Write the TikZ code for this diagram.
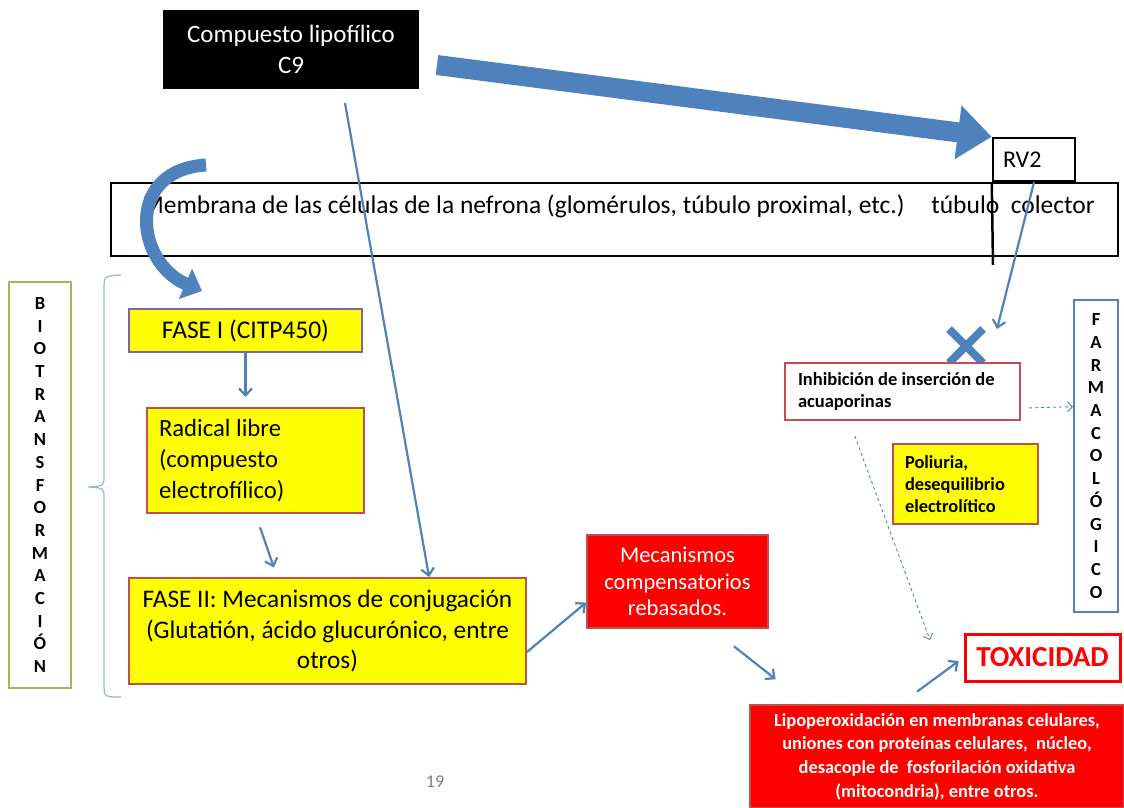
\documentclass[tikz,border=0pt]{standalone}
\usepackage{fontspec}
\setmainfont{Carlito}
\usepackage{xcolor}
\usetikzlibrary{arrows.meta,shapes.misc}

\definecolor{azul}{HTML}{4F81BD}
\definecolor{azulclaro}{HTML}{95B3D7}
\definecolor{rojoborde}{HTML}{C0504D}
\definecolor{morado}{HTML}{8064A2}
\definecolor{verde}{HTML}{9BBB59}
\definecolor{amarillo}{HTML}{FFFF00}
\definecolor{rojo}{HTML}{FF0000}

\tikzset{
  caja/.style={draw,shape=rectangle,line width=2pt,inner sep=0pt},
  amarilla/.style={caja,fill=amarillo,draw=rojoborde},
  roja/.style={caja,fill=rojo,draw=rojoborde,text=white},
  vertical/.style={caja,align=center,font=\bfseries\fontsize{18.5}{22.7}\selectfont},
  flecha/.style={draw=azul,line width=2.2pt,-{Straight Barb[length=7pt,width=13pt]}},
  punteada/.style={draw=azul,line width=0.9pt,dashed,-{Straight Barb[length=5pt,width=10pt]}}
}

\begin{document}
\begin{tikzpicture}[x=1pt,y=-1pt]
\useasboundingbox (0,0) rectangle (1124,808);

\node (compuesto) at (291,49.5) [caja,fill=black,text=white,minimum width=254pt,minimum height=77pt,align=center,font=\fontsize{25}{31}\selectfont] {Compuesto lipofílico\\C9};

\node (rv2) at (1034,159.5) [caja,line width=2.5pt,fill=white,minimum width=82pt,minimum height=43pt,text width=62pt,inner xsep=10pt,align=flush left,font=\fontsize{24}{28}\selectfont] {RV2};
\node (membrana) at (614.5,219.5) [caja,line width=2.5pt,minimum width=1007pt,minimum height=73pt,text width=961pt,align=flush left,text height=17pt,text depth=29pt,font=\fontsize{25.5}{30}\selectfont] {\hspace*{8pt}Membrana de las células de la nefrona (glomérulos, túbulo proximal, etc.)\hskip 0pt plus 1fill túbulo\ \ colector};
\coordinate (corte) at (993,265);
\draw [line width=2.5pt] (rv2.south west) -- (corte);

% flechas gruesas
\coordinate (inicio) at (437,65);
\draw [azul,line width=20pt,-{Triangle[length=34pt,width=52pt]}] (inicio) -- (rv2.north west);
\coordinate (curvaini) at (206,165);
\coordinate (curvafin) at (202,291);
\draw [azul,line width=13pt,-{Triangle[length=18pt,width=32pt]}] (curvaini) .. controls (125,170) and (135,262) .. (curvafin);

% llave
\draw [azulclaro,line width=1.2pt] (121,275) .. controls (104,276) .. (104,290) -- (104,476) .. controls (104,486) .. (88,487) .. controls (104,488) .. (104,498) -- (104,683) .. controls (104,697) .. (121,697);

\node (bio) at (40,485) [vertical,draw=verde,line width=2.5pt,minimum width=62pt,minimum height=406pt] {B\\I\\O\\T\\R\\A\\N\\S\\F\\O\\R\\M\\A\\C\\I\\Ó\\N};

\node (fase1) at (245.5,330.5) [caja,fill=amarillo,draw=morado,minimum width=233pt,minimum height=43pt,font=\fontsize{25.5}{30}\selectfont] {FASE I (CITP450)};
\node (radical) at (255.5,460.5) [amarilla,minimum width=217pt,minimum height=105pt,text width=193pt,inner xsep=12pt,align=flush left,font=\fontsize{24.7}{31}\selectfont] {Radical libre\\(compuesto\\electrofílico)};
\node (fase2) at (327.5,631) [amarilla,minimum width=397pt,minimum height=106pt,text width=385pt,align=flush center,font=\fontsize{25.3}{30.7}\selectfont] {FASE II: Mecanismos de conjugación\\(Glutatión, ácido glucurónico, entre\\otros)};

\node (meca) at (677.5,581.5) [roja,minimum width=181pt,minimum height=93pt,align=center,font=\fontsize{22.5}{26.5}\selectfont] {Mecanismos\\compensatorios\\rebasados.};
\node (lipo) at (937,756.5) [roja,minimum width=374pt,minimum height=103pt,align=center,font=\bfseries\fontsize{18.4}{23.7}\selectfont] {Lipoperoxidación en membranas celulares,\\uniones con proteínas celulares,\ \ núcleo,\\desacople de\ \ fosforilación oxidativa\\(mitocondria), entre otros.};
\node (toxicidad) at (1042.5,657.5) [caja,draw=rojo,line width=3pt,fill=white,text=rojo,minimum width=155pt,minimum height=47pt,font=\bfseries\fontsize{29}{32}\selectfont] {TOXICIDAD};

\node (cruz) at (966,346) [cross out,draw=azul,line width=8pt,minimum size=26pt,inner sep=0pt] {};
\node (inhib) at (902.5,391.5) [caja,draw=rojoborde,fill=white,minimum width=235pt,minimum height=57pt,text width=209pt,inner xsep=13pt,align=flush left,font=\bfseries\fontsize{18.5}{21.5}\selectfont] {Inhibición de inserción de\\acuaporinas};
\node (poliuria) at (965.5,484) [amarilla,minimum width=145pt,minimum height=80pt,text width=121pt,inner xsep=12pt,align=flush left,font=\bfseries\fontsize{18.4}{21.7}\selectfont] {Poliuria,\\desequilibrio\\electrolítico};
\node (farma) at (1096,456) [vertical,draw=azul,minimum width=44pt,minimum height=312pt] {F\\A\\R\\M\\A\\C\\O\\L\\Ó\\G\\I\\C\\O};

\node (pagina) at (435,782) [text=gray,font=\fontsize{18}{20}\selectfont] {19};

% flechas finas
\coordinate (pie) at (345,103);
\draw [flecha] (pie) -- (fase2.28);
\draw [flecha,shorten >=10pt] (fase1.south) -- (fase1.south |- radical.north);
\draw [flecha,shorten <=14pt,shorten >=10pt] (radical.south) -- (fase2.133);
\draw [flecha] (fase2.-6) -- (meca.193);
\draw [flecha,shorten <=28pt,shorten >=40pt] (meca.-54) -- (lipo.158);
\draw [flecha,shorten <=21pt,shorten >=6pt] (lipo.125) -- (toxicidad.west);
\draw [flecha] (rv2.south) -- ([xshift=14pt]cruz.north east);
\draw [punteada,shorten <=8pt] (inhib.-8.5) -- (farma.115);
\coordinate (punta) at (930,640);
\draw [punteada,shorten <=16pt] (inhib.209) -- (punta);
\end{tikzpicture}
\end{document}
